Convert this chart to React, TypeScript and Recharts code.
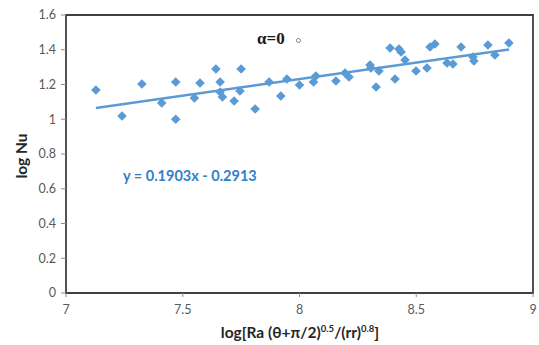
import React from 'react';
import { ScatterChart, Scatter, XAxis, YAxis, ReferenceArea } from 'recharts';

const logRa = [
  7.128, 7.24, 7.325, 7.41, 7.47, 7.47, 7.55, 7.574, 7.642, 7.66, 7.66, 7.67,
  7.72, 7.745, 7.75, 7.81, 7.87, 7.92, 7.946, 8.0, 8.06, 8.07, 8.156, 8.195,
  8.212, 8.302, 8.306, 8.328, 8.34, 8.388, 8.409, 8.426, 8.435, 8.452, 8.499,
  8.546, 8.559, 8.58, 8.632, 8.657, 8.692, 8.743, 8.747, 8.807, 8.837, 8.897,
];
const logNu = [
  1.168, 1.019, 1.203, 1.094, 1.214, 1.0, 1.122, 1.209, 1.289, 1.214, 1.157, 1.128,
  1.105, 1.163, 1.289, 1.059, 1.214, 1.134, 1.232, 1.197, 1.214, 1.249, 1.22, 1.266,
  1.243, 1.312, 1.295, 1.186, 1.278, 1.41, 1.232, 1.404, 1.387, 1.341, 1.278,
  1.295, 1.416, 1.433, 1.324, 1.318, 1.416, 1.358, 1.335, 1.427, 1.37, 1.439,
];
const xTicks = [7, 7.5, 8, 8.5, 9];
const yTicks = [0, 0.2, 0.4, 0.6, 0.8, 1, 1.2, 1.4, 1.6];
const slope = 0.1903;
const intercept = -0.2913;

const points = logRa.map((x, i) => ({ x, y: logNu[i] }));
const xMin = Math.min(...logRa);
const xMax = Math.max(...logRa);
const trend = [
  { x: xMin, y: slope * xMin + intercept },
  { x: xMax, y: slope * xMax + intercept },
];

const BLUE = '#5B9BD5';
const FONT = 'Lato, "Open Sans", sans-serif';

const Diamond = (props: any) => {
  const { cx, cy } = props;
  if (cx == null || cy == null) return <g />;
  const r = 4.8;
  return (
    <polygon
      points={`${cx},${cy - r} ${cx + r},${cy} ${cx},${cy + r} ${cx - r},${cy}`}
      fill={BLUE}
    />
  );
};

const NoShape = () => <g />;

export default function App() {
  const tickStyle = { fill: '#595959', fontSize: 12.5, fontFamily: FONT };
  const sup = { fontSize: 9.5, verticalAlign: 'super', lineHeight: 0 } as const;
  return (
    <div style={{ position: 'absolute', left: 0, top: 0, width: 539, height: 345, background: '#fff' }}>
      <ScatterChart width={539} height={345} margin={{ top: 15, right: 6, left: 0, bottom: 22 }}>
        <XAxis
          type="number"
          dataKey="x"
          domain={[7, 9]}
          ticks={xTicks}
          height={30}
          axisLine={false}
          tickLine={{ stroke: '#8c8c8c' }}
          tickSize={4}
          tickMargin={8}
          tick={tickStyle}
        />
        <YAxis
          type="number"
          dataKey="y"
          domain={[0, 1.6]}
          ticks={yTicks}
          width={66}
          axisLine={false}
          tickLine={{ stroke: '#8c8c8c' }}
          tickSize={5}
          tickMargin={5}
          tick={tickStyle}
        />
        <ReferenceArea x1={7} x2={9} y1={0} y2={1.6} fill="none" stroke="#404040" strokeWidth={1.8} />
        <Scatter data={points} shape={Diamond} isAnimationActive={false} />
        <Scatter
          data={trend}
          line={{ stroke: BLUE, strokeWidth: 2.5 }}
          shape={NoShape}
          isAnimationActive={false}
        />
      </ScatterChart>

      <div
        style={{
          position: 'absolute', left: 257, top: 29, fontFamily: '"Liberation Serif", "DejaVu Serif", serif',
          fontWeight: 'bold', fontSize: 17, color: '#1a1a1a', lineHeight: '20px', whiteSpace: 'nowrap',
        }}
      >
        α=0
      </div>
      <div
        style={{
          position: 'absolute', left: 296, top: 38, width: 3, height: 3, borderRadius: '50%',
          border: '1px solid #808080',
        }}
      />
      <div
        style={{
          position: 'absolute', left: 123, top: 167, fontFamily: FONT, fontWeight: 'bold', fontSize: 14.5,
          color: '#2F80C8', lineHeight: '18px', whiteSpace: 'nowrap',
        }}
      >
        y = 0.1903x - 0.2913
      </div>
      <div
        style={{
          position: 'absolute', left: 300, top: 332, transform: 'translate(-50%, -50%)', fontFamily: FONT,
          fontWeight: 'bold', fontSize: 15.5, color: '#262626', whiteSpace: 'nowrap', lineHeight: '18px',
        }}
      >
        log[Ra (θ+π/2)<sup style={sup}>0.5</sup>/(rr)<sup style={sup}>0.8</sup>]
      </div>
      <div
        style={{
          position: 'absolute', left: 21, top: 156, transform: 'translate(-50%, -50%) rotate(-90deg)',
          fontFamily: FONT, fontWeight: 'bold', fontSize: 15.5, color: '#262626', whiteSpace: 'nowrap',
          lineHeight: '18px',
        }}
      >
        log Nu
      </div>
    </div>
  );
}
